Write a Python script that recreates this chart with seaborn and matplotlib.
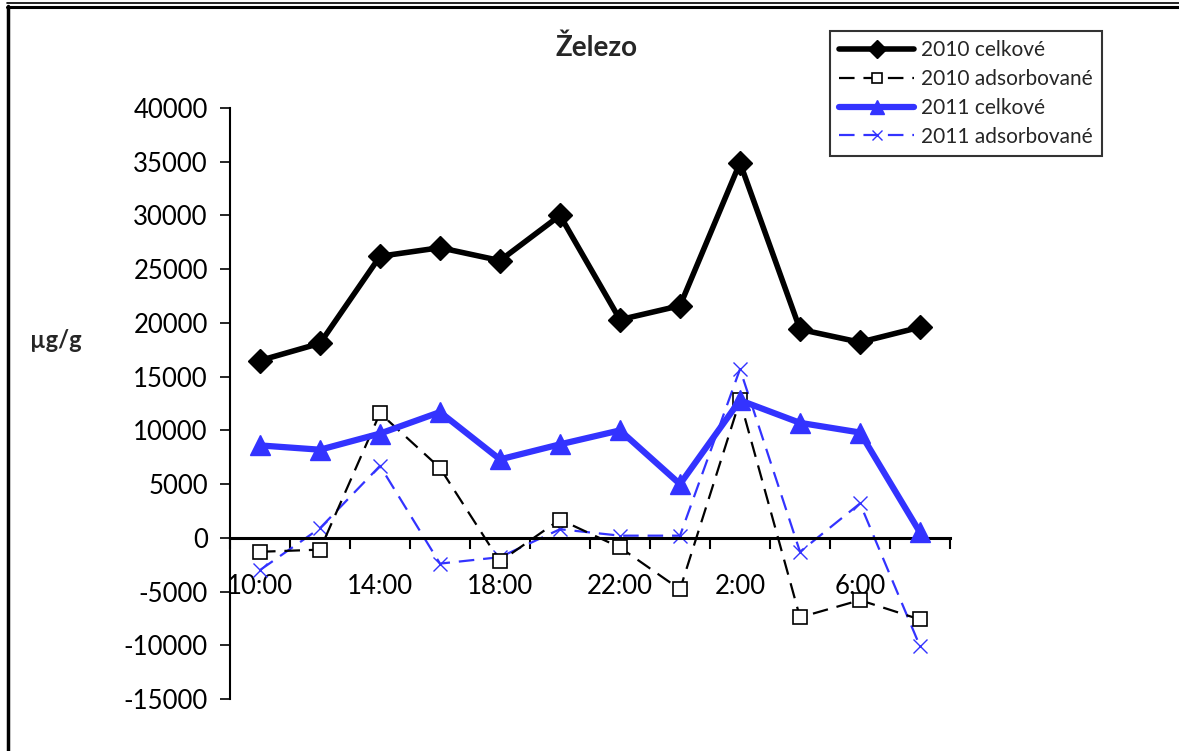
import matplotlib
matplotlib.use("Agg")
import matplotlib.pyplot as plt
from matplotlib.lines import Line2D
import numpy as np
import pandas as pd
import seaborn as sns

# Sampling times (every 2 h), labels shown on every other category
times = ["10:00", "12:00", "14:00", "16:00", "18:00", "20:00",
         "22:00", "0:00", "2:00", "4:00", "6:00", "8:00"]

fe_2010_total = [16500, 18100, 26200, 27000, 25800, 30000,
                 20300, 21600, 34900, 19400, 18200, 19600]
fe_2010_adsorbed = [-1300, -1100, 11600, 6500, -2200, 1700,
                    -900, -4800, 12800, -7400, -5800, -7600]
fe_2011_total = [8600, 8200, 9700, 11700, 7300, 8700,
                 10000, 5000, 12800, 10700, 9800, 500]
fe_2011_adsorbed = [-3000, 900, 6700, -2400, -1800, 800,
                    200, 200, 15700, -1300, 3200, -10100]

series_names = ["2010 celkové", "2010 adsorbované", "2011 celkové", "2011 adsorbované"]

sns.set_theme(style="white")
plt.rcParams["font.family"] = ["Lato", "DejaVu Sans"]

BLUE = "#3333ff"
styles = {
    "2010 celkové": dict(color="black", lw=4.0, marker="D", ms=12, mfc="black",
                         mec="black", dashes=(None, None)),
    "2010 adsorbované": dict(color="black", lw=1.6, marker="s", ms=10, mfc="white",
                             mec="black", mew=1.2, dashes=(7, 4)),
    "2011 celkové": dict(color=BLUE, lw=4.5, marker="^", ms=14, mfc=BLUE,
                         mec=BLUE, dashes=(None, None)),
    "2011 adsorbované": dict(color=BLUE, lw=1.6, marker="x", ms=10, mfc=BLUE,
                             mec=BLUE, mew=1.0, dashes=(7, 4)),
}

df = pd.DataFrame({
    "idx": np.tile(np.arange(len(times)), 4),
    "series": np.repeat(series_names, len(times)),
    "value": fe_2010_total + fe_2010_adsorbed + fe_2011_total + fe_2011_adsorbed,
})

fig = plt.figure(figsize=(11.79, 7.51), dpi=100)
ax = fig.add_axes([230 / 1179, 1 - 699 / 751, 720 / 1179, (699 - 108) / 751])

for name in ["2011 adsorbované", "2010 adsorbované", "2011 celkové", "2010 celkové"]:
    st = styles[name]
    sub = df[df["series"] == name]
    sns.lineplot(data=sub, x="idx", y="value", ax=ax, color=st["color"],
                 linewidth=st["lw"], marker=st["marker"], markersize=st["ms"],
                 markerfacecolor=st["mfc"], markeredgecolor=st["mec"],
                 markeredgewidth=st.get("mew", 1.0), legend=False,
                 zorder=3 if "celk" in name else 2)
    line = ax.lines[-1]
    if st["dashes"][0] is not None:
        line.set_dashes(st["dashes"])

handles = []
for name in series_names:
    st = styles[name]
    h = Line2D([], [], color=st["color"], lw=st["lw"], marker=st["marker"],
               ms=st["ms"] * 0.75, mfc=st["mfc"], mec=st["mec"],
               mew=st.get("mew", 1.0))
    if st["dashes"][0] is not None:
        h.set_dashes(st["dashes"])
    handles.append(h)

ax.set_xlim(-0.5, len(times) - 0.5)
ax.set_ylim(-15000, 40000)
ax.set_yticks(np.arange(-15000, 40001, 5000))
ax.set_yticklabels([str(v) for v in range(-15000, 40001, 5000)])

# Category boundaries carry the tick marks, labels sit on every second category
ax.set_xticks(np.arange(-0.5, len(times), 1.0))
ax.set_xticklabels([])
ax.set_xticks(np.arange(0, len(times), 2), minor=True)
ax.set_xticklabels(times[::2], minor=True)
ax.tick_params(axis="x", which="major", direction="out", length=8, width=1.5,
               color="black", bottom=True)
ax.tick_params(axis="x", which="minor", length=0, pad=26, labelsize=18.5,
               labelcolor="black", bottom=True)
ax.tick_params(axis="y", direction="out", length=7, width=1.2, color="black",
               left=True, pad=9, labelsize=18.5, labelcolor="black")
ax.set_xlabel("")
ax.set_ylabel("")

for s in ["top", "right"]:
    ax.spines[s].set_visible(False)
ax.spines["left"].set_color("black")
ax.spines["left"].set_linewidth(1.5)
ax.spines["bottom"].set_color("black")
ax.spines["bottom"].set_linewidth(2.2)
ax.spines["bottom"].set_position(("data", 0))
ax.grid(False)

fig.text(597 / 1179, 1 - 48 / 751, "Železo", ha="center", va="center",
         fontsize=20, fontweight="bold")
fig.text(30 / 1179, 1 - 340 / 751, "µg/g", ha="left", va="center",
         fontsize=17, fontweight="bold")

leg = fig.legend(handles, series_names, loc="upper left",
                 bbox_to_anchor=(830 / 1179, 1 - 31 / 751), borderaxespad=0,
                 frameon=True, fancybox=False, fontsize=15, handlelength=3.6,
                 labelspacing=0.42, borderpad=0.45, handletextpad=0.3)
leg.get_frame().set_edgecolor("black")
leg.get_frame().set_linewidth(1.5)

# Outer frame lines
fig.add_artist(Line2D([7 / 1179, 1], [1 - 2.5 / 751] * 2, color="black", lw=1.2,
                      transform=fig.transFigure))
fig.add_artist(Line2D([7 / 1179, 1], [1 - 7 / 751] * 2, color="black", lw=2.2,
                      transform=fig.transFigure))
fig.add_artist(Line2D([8 / 1179] * 2, [0, 1 - 6 / 751], color="black", lw=2.5,
                      transform=fig.transFigure))

fig.savefig("out.png", dpi=100, facecolor="white")
